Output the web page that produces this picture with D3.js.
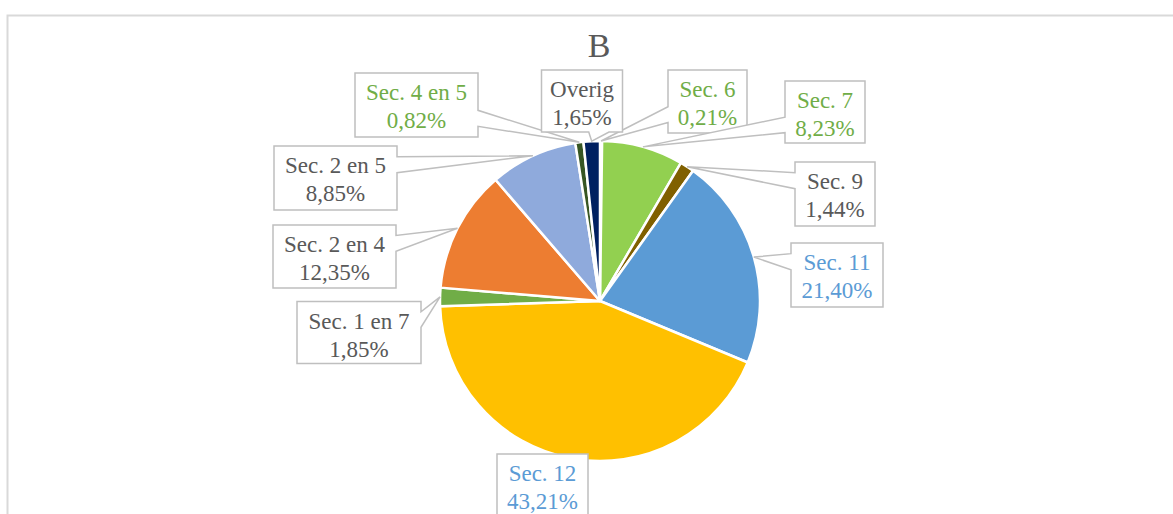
<!DOCTYPE html>
<html>
<head>
<meta charset="utf-8">
<script src="https://cdn.jsdelivr.net/npm/d3@7"></script>
<style>
  html, body { margin: 0; padding: 0; background: #fff; }
  svg { display: block; }
  text { font-family: "Liberation Serif", "Times New Roman", "DejaVu Serif", serif; }
</style>
</head>
<body>
<svg id="chart" width="1173" height="514"></svg>
<script>
// Share per section, clockwise from 12 o'clock
const categories = ["Sec. 6", "Sec. 7", "Sec. 9", "Sec. 11", "Sec. 12",
                    "Sec. 1 en 7", "Sec. 2 en 4", "Sec. 2 en 5", "Sec. 4 en 5", "Overig"];
const shares = [0.21, 8.23, 1.44, 21.40, 43.21, 1.85, 12.35, 8.85, 0.82, 1.65];

// Styling per slice
const sliceColors = ["#a9d18e", "#92d050", "#806000", "#5b9bd5", "#ffc000",
                     "#70ad47", "#ed7d31", "#8faadc", "#375623", "#002060"];
const labelColors = ["#70ad47", "#70ad47", "#595959", "#5b9bd5", "#5b9bd5",
                     "#595959", "#595959", "#595959", "#70ad47", "#595959"];
// Label box layout: centre x, centre y, width, height
const labelBoxes = [
  [707.5, 101.5, 79, 63],
  [825, 112, 80, 62],
  [835, 194, 80, 64],
  [837, 275, 92, 64],
  [542.5, 486, 91, 64],
  [359, 332.5, 124, 62],
  [334.5, 256.5, 123, 63],
  [335.5, 178, 123, 64],
  [416.5, 105, 123, 64],
  [582, 101, 81, 62]
];

const serif = "'Liberation Serif', 'Times New Roman', serif";
const svg = d3.select("#chart");
const cx = 600, cy = 301, radius = 160;

// Chart frame
svg.append("rect")
  .attr("x", 7.5).attr("y", 15.5)
  .attr("width", 1200).attr("height", 600)
  .attr("fill", "none").attr("stroke", "#d9d9d9").attr("stroke-width", 2);

// Title
svg.append("text")
  .attr("x", 599).attr("y", 57)
  .attr("text-anchor", "middle")
  .attr("font-family", serif)
  .attr("font-size", 34)
  .attr("fill", "#595959")
  .text("B");

const data = categories.map((c, i) => ({ name: c, value: shares[i], i }));
const pie = d3.pie().sort(null).value(d => d.value).startAngle(0).endAngle(2 * Math.PI);
const arcs = pie(data);
const arc = d3.arc().innerRadius(0).outerRadius(radius);

const g = svg.append("g").attr("transform", `translate(${cx},${cy})`);
g.selectAll("path.slice")
  .data(arcs)
  .join("path")
  .attr("class", "slice")
  .attr("d", arc)
  .attr("fill", d => sliceColors[d.data.i])
  .attr("stroke", "#fff")
  .attr("stroke-width", 2.5)
  .attr("stroke-linejoin", "round");

// Rectangle callout with a wedge pointing at the slice edge
function callout(x, y, w, h, px, py) {
  if (px >= x && px <= x + w && py >= y && py <= y + h) {
    return `M${x},${y}H${x + w}V${y + h}H${x}Z`;
  }
  const dx = px - (x + w / 2), dy = py - (y + h / 2);
  const dq = dx * h / w;
  const vertical = Math.abs(dy) > Math.abs(dq);
  const x1 = x + w * (dx > 0 ? 7 : 2) / 12, x2 = x + w * (dx > 0 ? 10 : 5) / 12;
  const y1 = y + h * (dy > 0 ? 7 : 2) / 12, y2 = y + h * (dy > 0 ? 10 : 5) / 12;
  let p = `M${x},${y}`;
  if (vertical && dy < 0) p += `L${x1},${y}L${px},${py}L${x2},${y}`;
  p += `L${x + w},${y}`;
  if (!vertical && dx > 0) p += `L${x + w},${y1}L${px},${py}L${x + w},${y2}`;
  p += `L${x + w},${y + h}`;
  if (vertical && dy > 0) p += `L${x2},${y + h}L${px},${py}L${x1},${y + h}`;
  p += `L${x},${y + h}`;
  if (!vertical && dx < 0) p += `L${x},${y2}L${px},${py}L${x},${y1}`;
  return p + "Z";
}

const fmt = v => d3.format(".2f")(v).replace(".", ",") + "%";
const labels = svg.append("g");
arcs.forEach(a => {
  const i = a.data.i;
  const mid = (a.startAngle + a.endAngle) / 2;
  const px = cx + radius * Math.sin(mid);
  const py = cy - radius * Math.cos(mid);
  const [bx, by, bw, bh] = labelBoxes[i];
  const x = bx - bw / 2, y = by - bh / 2;
  labels.append("path")
    .attr("d", callout(x, y, bw, bh, px, py))
    .attr("fill", "#fff")
    .attr("stroke", "#bfbfbf")
    .attr("stroke-width", 1.5)
    .attr("stroke-linejoin", "miter");
  const t = labels.append("text")
    .attr("text-anchor", "middle")
    .attr("font-family", serif)
    .attr("font-size", 23)
    .attr("fill", labelColors[i]);
  t.append("tspan").attr("x", bx).attr("y", y + 27).text(a.data.name);
  t.append("tspan").attr("x", bx).attr("y", y + 55).text(fmt(a.data.value));
});
</script>
</body>
</html>
